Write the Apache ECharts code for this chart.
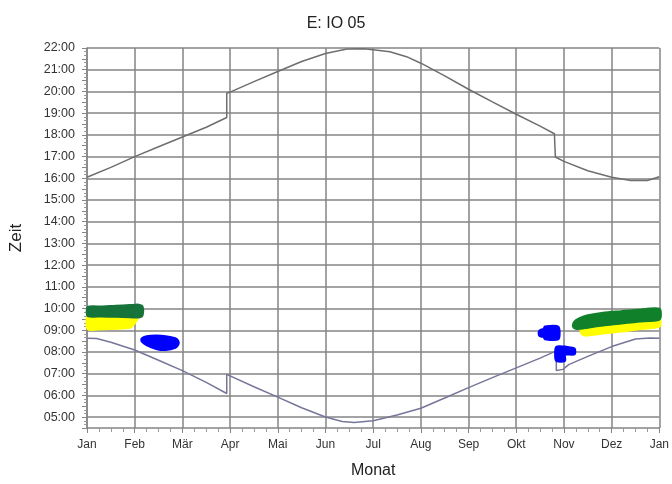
<!DOCTYPE html>
<html><head><meta charset="utf-8">
<script src="https://cdn.jsdelivr.net/npm/echarts@6/dist/echarts.min.js"></script>
<style>html,body{margin:0;padding:0;background:#fff}#c{width:672px;height:484px}</style>
</head><body><div id="c"></div>
<script>
// x values are in months from 1 Jan (0) to next 1 Jan (12)
const monthLabels = ['Jan','Feb','Mär','Apr','Mai','Jun','Jul','Aug','Sep','Okt','Nov','Dez','Jan'];

const sunsetX = [0, 0.5, 1, 1.5, 2, 2.5, 2.93, 2.93, 3, 3.5, 4, 4.5, 5, 5.45, 5.8, 6, 6.35, 6.7, 7, 7.5, 8, 8.5, 9, 9.5, 9.8, 9.82, 10, 10.5, 11, 11.4, 11.75, 12];
const sunsetY = [16.05, 16.5, 17.0, 17.45, 17.9, 18.35, 18.8, 19.92, 19.97, 20.45, 20.92, 21.38, 21.75, 21.95, 21.97, 21.92, 21.83, 21.6, 21.3, 20.72, 20.1, 19.52, 18.95, 18.4, 18.05, 16.98, 16.78, 16.35, 16.05, 15.9, 15.9, 16.07];

const sunriseX = [0, 0.2, 0.5, 1, 1.5, 2, 2.5, 2.93, 2.93, 3, 3.5, 4, 4.5, 5, 5.35, 5.6, 6, 6.5, 7, 7.5, 8, 8.5, 9, 9.5, 9.84, 9.84, 9.98, 10.1, 10.5, 11, 11.5, 11.8, 12];
const sunriseY = [8.63, 8.62, 8.45, 8.09, 7.62, 7.14, 6.6, 6.09, 6.97, 6.9, 6.4, 5.92, 5.43, 5.01, 4.8, 4.75, 4.83, 5.1, 5.41, 5.88, 6.36, 6.82, 7.27, 7.72, 8.05, 7.15, 7.2, 7.42, 7.8, 8.25, 8.6, 8.64, 8.63];

// shadow bands: x, lower time, upper time
const yellowJanX  = [0.02, 0.3, 0.6, 0.8, 0.92, 0.98, 1.05];
const yellowJanLo = [9.06, 9.06, 9.08, 9.1, 9.15, 9.28, 9.5];
const yellowJanHi = [9.66, 9.65, 9.63, 9.62, 9.61, 9.6, 9.6];

const greenJanX  = [0.02, 0.3, 0.6, 0.9, 1.08, 1.15, 1.17];
const greenJanLo = [9.66, 9.65, 9.63, 9.61, 9.6, 9.65, 9.8];
const greenJanHi = [10.06, 10.08, 10.12, 10.15, 10.17, 10.12, 10.0];

const blueFebX  = [1.15, 1.25, 1.45, 1.65, 1.85, 1.91];
const blueFebLo = [8.5, 8.33, 8.15, 8.1, 8.2, 8.35];
const blueFebHi = [8.62, 8.72, 8.75, 8.72, 8.62, 8.5];

const blueOktX  = [9.48, 9.52, 9.58, 9.6, 9.88];
const blueOktLo = [8.78, 8.72, 8.7, 8.6, 8.6];
const blueOktHi = [8.95, 9.02, 9.05, 9.16, 9.16];

const blueNovX  = [9.84, 10.02, 10.02, 10.22];
const blueNovLo = [7.6, 7.6, 7.88, 7.9];
const blueNovHi = [8.22, 8.24, 8.24, 8.15];

const yellowDecX  = [10.36, 10.42, 10.5, 10.82, 11.2, 11.54, 12.0];
const yellowDecLo = [8.9, 8.78, 8.77, 8.86, 8.95, 9.05, 9.18];
const yellowDecHi = [9.1, 9.12, 9.14, 9.23, 9.32, 9.41, 9.5];

const greenDecX  = [10.2, 10.25, 10.35, 10.5, 10.82, 11.2, 11.54, 12.0];
const greenDecLo = [9.15, 9.08, 9.08, 9.13, 9.23, 9.32, 9.41, 9.5];
const greenDecHi = [9.3, 9.45, 9.57, 9.68, 9.8, 9.87, 9.93, 9.98];

function zip(a, b) { return a.map((v, i) => [v, b[i]]); }

function bandSeries(name, xs, lo, hi, color) {
  const data = xs.map((x, i) => [x, lo[i], hi[i]]);
  return {
    type: 'custom', name: name, z: 5, silent: true,
    encode: { x: 0, y: [1, 2] },
    data: data,
    renderItem: function (params, api) {
      if (params.dataIndex !== 0) return null;
      const pts = [];
      for (let i = 0; i < xs.length; i++) pts.push(api.coord([xs[i], lo[i]]));
      for (let i = xs.length - 1; i >= 0; i--) pts.push(api.coord([xs[i], hi[i]]));
      return {
        type: 'polygon',
        shape: { points: pts, smooth: 0.25 },
        style: { fill: color, stroke: color, lineWidth: 2.5, lineJoin: 'round' }
      };
    }
  };
}

const FONT = 'Liberation Sans, Arial, sans-serif';
const GRID = '#858585';

const chart = echarts.init(document.getElementById('c'), null, { renderer: 'canvas' });
chart.setOption({
  animation: false,
  backgroundColor: '#ffffff',
  title: {
    text: 'E: IO 05', left: 'center', top: 11,
    textStyle: { fontFamily: FONT, fontSize: 16, fontWeight: 'normal', color: '#222' }
  },
  grid: { left: 87, right: 12, top: 48, bottom: 51 },
  xAxis: {
    type: 'value', min: 0, max: 12, interval: 1,
    name: 'Monat', nameLocation: 'middle', nameGap: 35,
    nameTextStyle: { fontFamily: FONT, fontSize: 16, color: '#222' },
    axisLine: { lineStyle: { color: GRID, width: 1.5 } },
    axisTick: { show: true, length: 5, lineStyle: { color: GRID } },
    minorTick: { show: true, splitNumber: 4, length: 4, lineStyle: { color: '#999' } },
    axisLabel: { fontFamily: FONT, fontSize: 12, color: '#333', margin: 11,
      formatter: v => monthLabels[Math.round(v)] },
    splitLine: { show: true, lineStyle: { color: GRID, width: 1.5 } }
  },
  yAxis: {
    type: 'value', min: 4.5, max: 22, interval: 0.5,
    name: 'Zeit', nameLocation: 'middle', nameGap: 62, nameRotate: 90,
    nameTextStyle: { fontFamily: FONT, fontSize: 17, color: '#222' },
    axisLine: { show: true, lineStyle: { color: GRID, width: 1.5 } },
    axisTick: { show: true, length: 5, lineStyle: { color: GRID } },
    minorTick: { show: true, splitNumber: 3, length: 3, lineStyle: { color: '#999' } },
    axisLabel: { fontFamily: FONT, fontSize: 12.5, color: '#333', margin: 12,
      formatter: v => (Math.abs(v - Math.round(v)) < 1e-6) ? (String(Math.round(v)).padStart(2, '0') + ':00') : '' },
    splitLine: { show: true, lineStyle: { color: ['rgba(0,0,0,0)', GRID], width: 1.5 } }
  },
  series: [
    { type: 'line', name: 'Sonnenuntergang', data: zip(sunsetX, sunsetY), showSymbol: false, silent: true, z: 3,
      lineStyle: { color: '#6e6e6e', width: 1.5 } },
    { type: 'line', name: 'Sonnenaufgang', data: zip(sunriseX, sunriseY), showSymbol: false, silent: true, z: 3,
      lineStyle: { color: '#76769a', width: 1.5 } },
    bandSeries('gelb Jan', yellowJanX, yellowJanLo, yellowJanHi, '#ffff00'),
    bandSeries('grün Jan', greenJanX, greenJanLo, greenJanHi, '#16733a'),
    bandSeries('blau Feb', blueFebX, blueFebLo, blueFebHi, '#0000ff'),
    bandSeries('blau Okt', blueOktX, blueOktLo, blueOktHi, '#0000ff'),
    bandSeries('blau Nov', blueNovX, blueNovLo, blueNovHi, '#0000ff'),
    bandSeries('gelb Dez', yellowDecX, yellowDecLo, yellowDecHi, '#ffff00'),
    bandSeries('grün Dez', greenDecX, greenDecLo, greenDecHi, '#10802a')
  ]
});
</script>
</body></html>
